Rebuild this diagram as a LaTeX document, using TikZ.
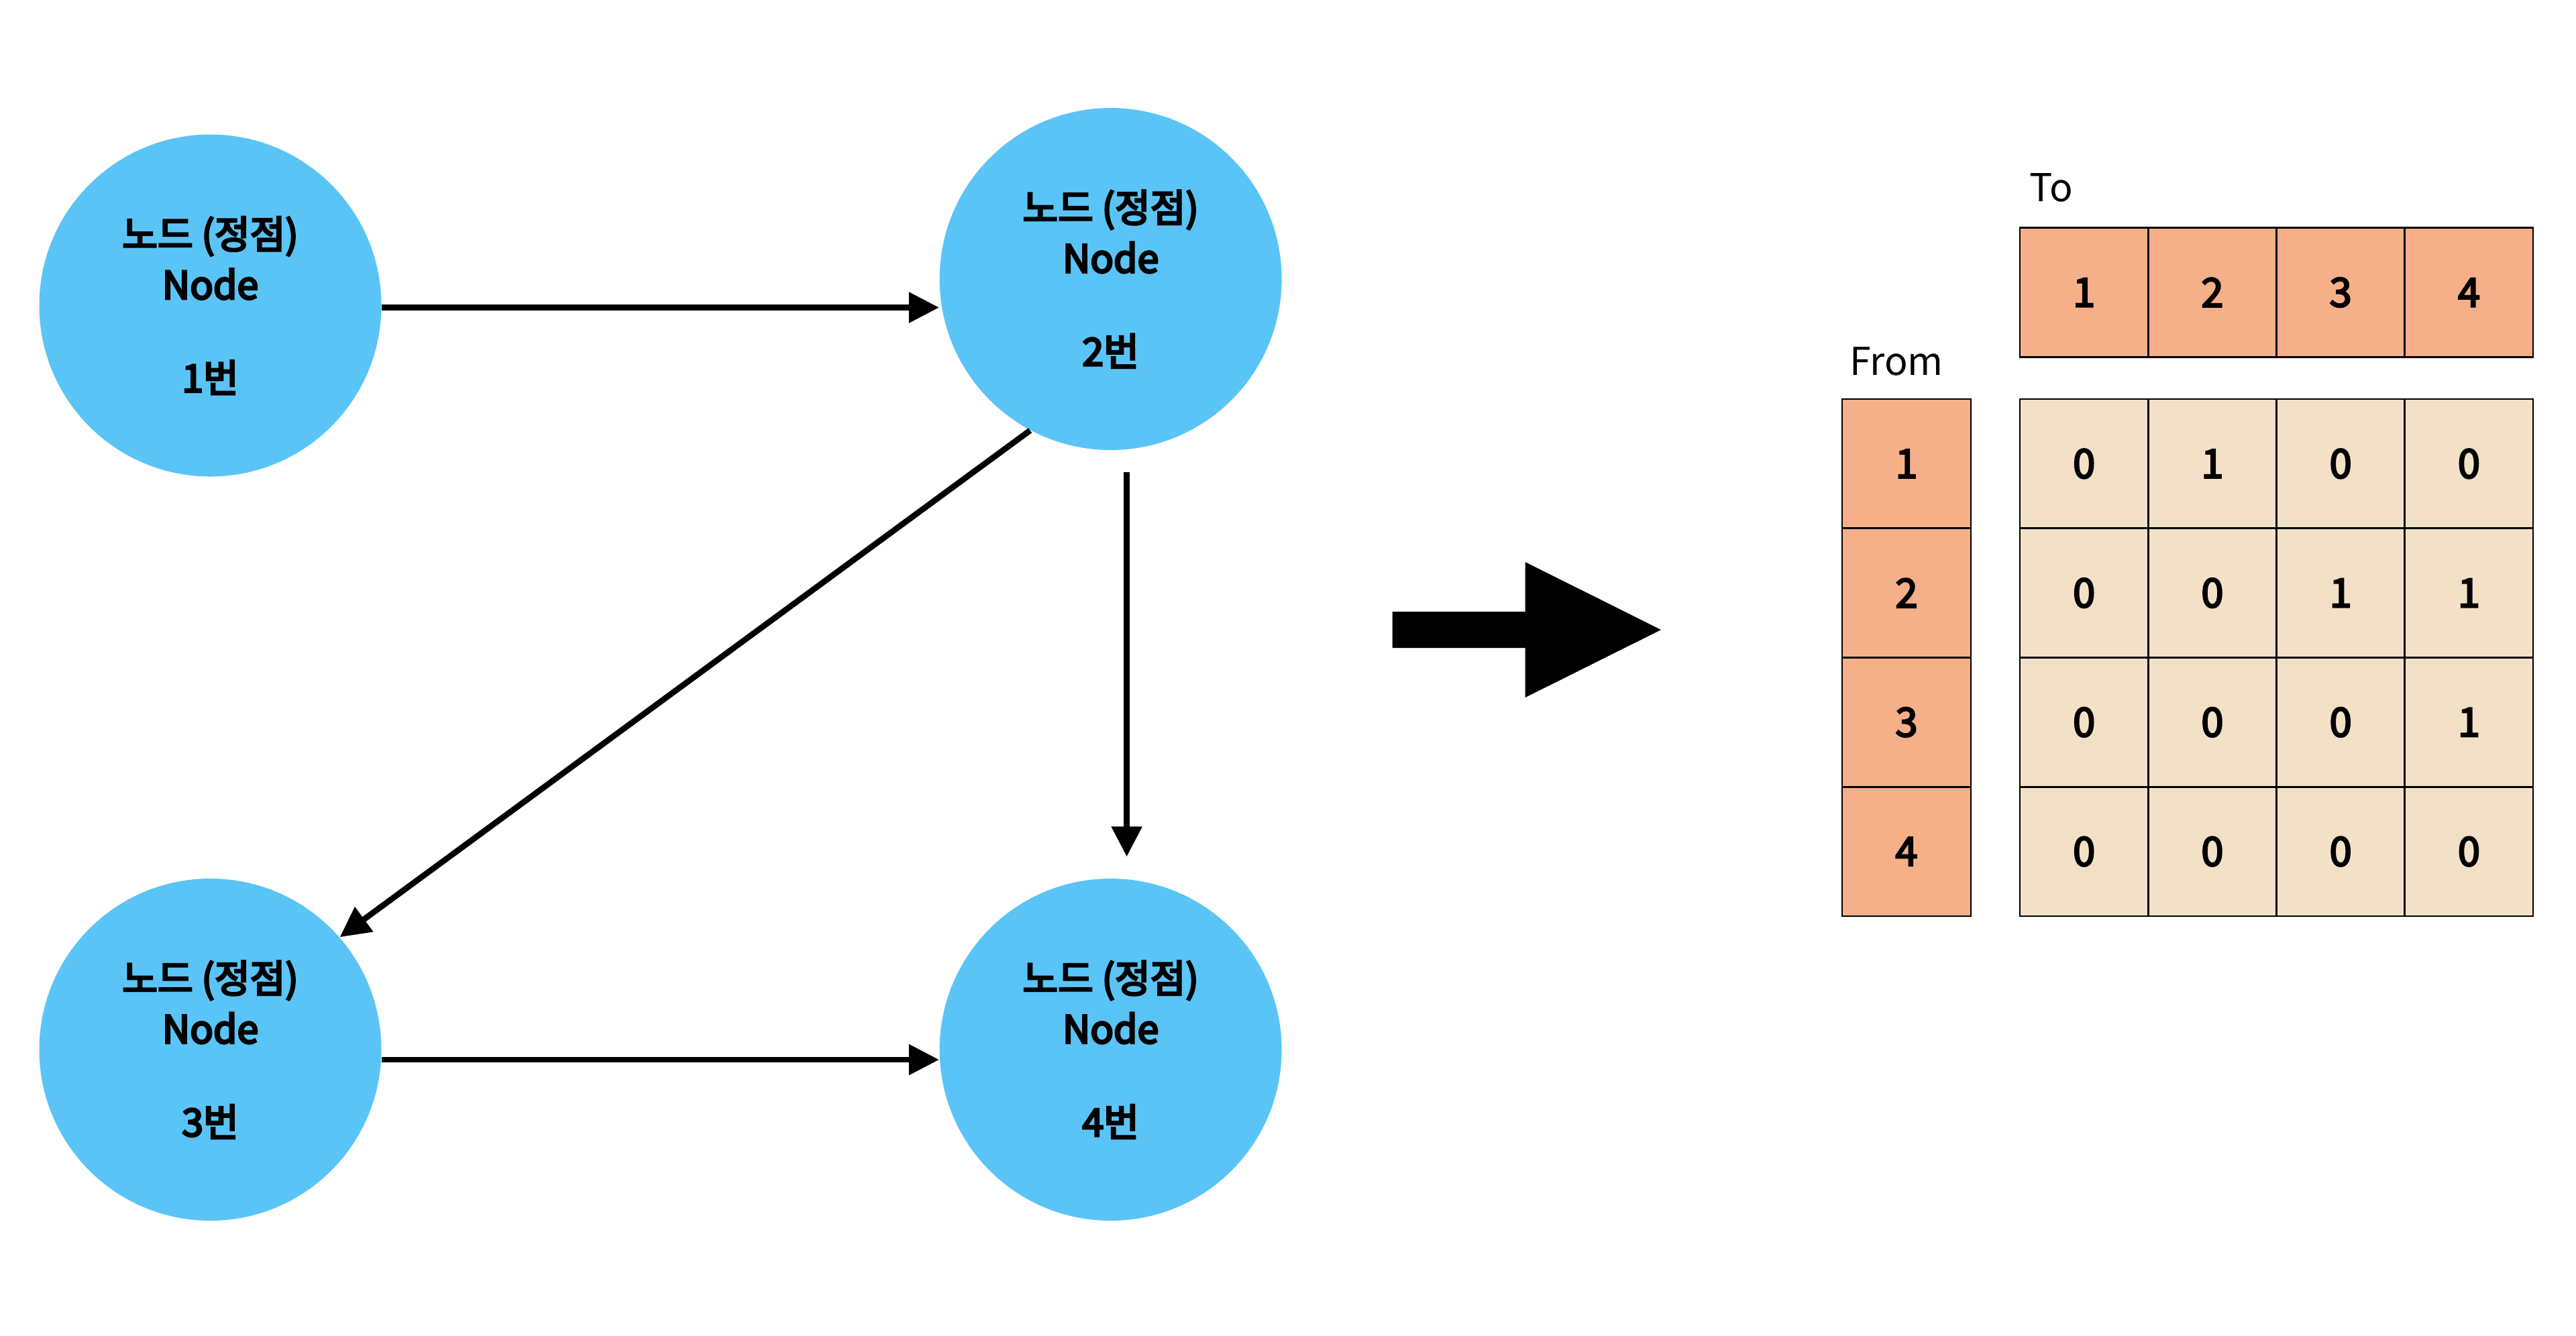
\documentclass[tikz,border=0pt]{standalone}
\usepackage{fontspec}
\setmainfont{Noto Sans CJK KR}
\newfontfamily\medfont{Noto Sans CJK KR}[FakeBold=4]
\newfontfamily\semifont{Noto Sans CJK KR}[FakeBold=5]
\usetikzlibrary{arrows.meta}
\definecolor{nodeblue}{RGB}{91,196,246}
\definecolor{hdr}{RGB}{245,176,138}
\definecolor{cellbg}{RGB}{243,225,199}
\begin{document}
\begin{tikzpicture}[x=1cm,y=1cm,
  vert/.style={circle, fill=nodeblue, minimum size=5.1cm, inner sep=0pt, align=center,
    font=\fontsize{16.3pt}{21.5pt}\selectfont\semifont},
  edge/.style={line width=2.5pt, -{Triangle[length=0.45cm,width=0.44cm]}},
  cell/.style={draw=black, line width=0.8pt, minimum width=1.9125cm, minimum height=1.9275cm,
    inner sep=0pt, font=\fontsize{17pt}{20pt}\selectfont\medfont},
  hcell/.style={cell, fill=hdr},
  bcell/.style={cell, fill=cellbg},
  lbl/.style={font=\fontsize{16.3pt}{19pt}\selectfont, inner sep=0pt}]
\useasboundingbox (0,0) rectangle (38.4,-19.91);

% graph nodes
\node[vert] (n1) at (3.135,-4.555)  {노드 (정점)\\Node\\[18pt]1번};
\node[vert] (n2) at (16.556,-4.16)  {노드 (정점)\\Node\\[18pt]2번};
\node[vert] (n3) at (3.135,-15.65)  {노드 (정점)\\Node\\[18pt]3번};
\node[vert] (n4) at (16.556,-15.65) {노드 (정점)\\Node\\[18pt]4번};

% edges
\draw[edge] ([yshift=-0.03cm]n1.east) -- ([yshift=-0.03cm]n2.west |- n1.east);
\draw[edge] (n2.242) -- (n3.41);
\draw[edge] ([xshift=0.24cm,yshift=-0.32cm]n2.south) -- ([xshift=0.24cm,yshift=0.32cm]n4.north);
\draw[edge] ([yshift=-0.15cm]n3.east) -- ([yshift=-0.15cm]n4.west);

% big arrow
\fill (20.756,-9.12) -- (22.736,-9.12) -- (22.736,-8.38) -- (24.76,-9.39)
  -- (22.736,-10.40) -- (22.736,-9.66) -- (20.756,-9.66) -- cycle;

% labels
\node[lbl] (to) at (30.58,-2.80) {To};
\node[lbl] (from) at (28.27,-5.39) {From};

% header row
\foreach \i in {1,...,4}
  \node[hcell] (h\i) at ({30.11+0.95625+1.9125*(\i-1)}, -4.36) {\i};
% from column
\foreach \i in {1,...,4}
  \node[hcell, minimum width=1.92cm] (f\i) at (28.42, {-5.95-0.96375-1.9275*(\i-1)}) {\i};
% body
\foreach \v [count=\k from 0] in {0,1,0,0, 0,0,1,1, 0,0,0,1, 0,0,0,0}{
  \pgfmathtruncatemacro{\r}{div(\k,4)}
  \pgfmathtruncatemacro{\c}{mod(\k,4)}
  \node[bcell] (m\r\c) at ({30.11+0.95625+1.9125*\c}, {-5.95-0.96375-1.9275*\r}) {\v};
}
\end{tikzpicture}
\end{document}
